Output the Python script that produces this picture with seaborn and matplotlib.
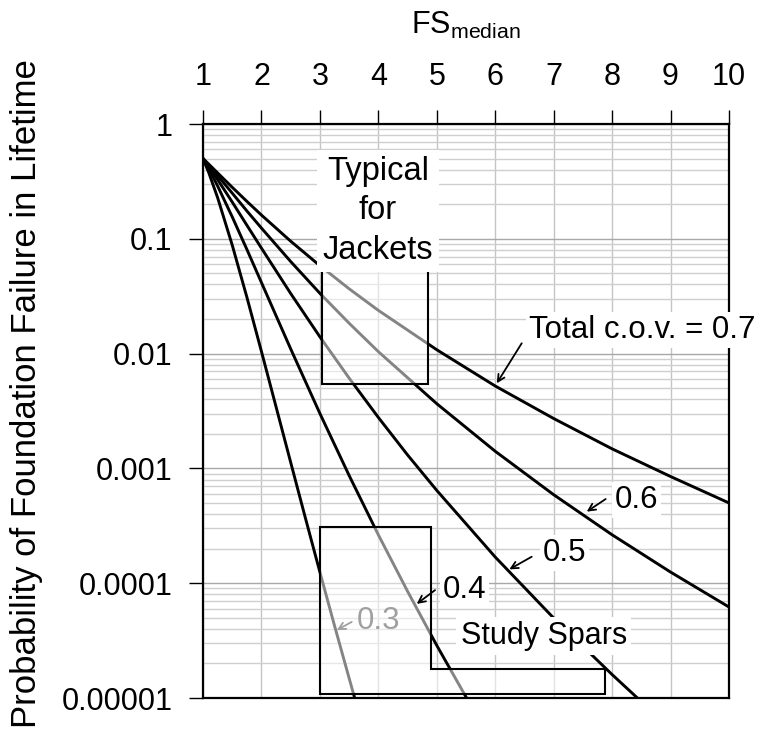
import numpy as np
import pandas as pd
import matplotlib
matplotlib.use("Agg")
import matplotlib.pyplot as plt
from matplotlib.patches import Polygon
import seaborn as sns

# ---- data ----
fs_07 = [1, 1.1, 1.25, 1.5, 1.75, 2, 2.5, 3, 3.5, 4, 5, 6, 7, 8, 9, 10]
p_07 = [0.5, 0.446, 0.375, 0.281, 0.212, 0.161, 0.0953, 0.0583, 0.0367, 0.0238,
        0.0108, 0.00522, 0.00272, 0.00148, 0.00085, 0.0005]
fs_06 = [1, 1.1, 1.25, 1.5, 1.75, 2, 2.5, 3, 3.5, 4, 5, 6, 7, 8, 9, 10]
p_06 = [0.5, 0.437, 0.355, 0.250, 0.175, 0.124, 0.0634, 0.0335, 0.0184, 0.0104,
        0.00366, 0.00141, 0.00059, 0.000264, 0.000125, 0.000062]
fs_05 = [1, 1.1, 1.25, 1.5, 1.75, 2, 2.5, 3, 3.5, 4, 4.5, 5, 6, 7, 8, 8.5]
p_05 = [0.5, 0.424, 0.328, 0.209, 0.1315, 0.0829, 0.0334, 0.0140, 0.00612, 0.00278,
        0.00131, 0.000643, 0.000169, 0.0000497, 0.0000160, 0.0000093]
fs_04 = [1, 1.1, 1.25, 1.5, 1.75, 2, 2.5, 3, 3.5, 4, 4.5, 5, 5.6]
p_04 = [0.5, 0.406, 0.2885, 0.1553, 0.0810, 0.0416, 0.0110, 0.00301, 0.000868,
        0.000264, 0.000085, 0.0000287, 0.0000083]
fs_03 = [1, 1.1, 1.25, 1.5, 1.75, 2, 2.25, 2.5, 2.75, 3, 3.25, 3.5, 3.6]
p_03 = [0.5, 0.375, 0.2284, 0.0882, 0.0311, 0.01044, 0.00344, 0.00113, 0.000373,
        0.000125, 0.0000427, 0.0000149, 0.0000098]

covs = [0.7, 0.6, 0.5, 0.4, 0.3]
x_ticks = [1, 2, 3, 4, 5, 6, 7, 8, 9, 10]
y_ticks = [1e-5, 1e-4, 1e-3, 1e-2, 1e-1, 1]
y_tick_labels = ["0.00001", "0.0001", "0.001", "0.01", "0.1", "1"]

# region boxes (data coords)
jacket_box = [(3.03, 0.0054), (3.03, 0.07), (4.855, 0.07), (4.855, 0.0054)]
spar_box = [(3.0, 1.08e-5), (3.0, 3.1e-4), (4.9, 3.1e-4), (4.9, 1.8e-5),
            (7.88, 1.8e-5), (7.88, 1.08e-5)]

frames = []
for c, fs, p in zip(covs, [fs_07, fs_06, fs_05, fs_04, fs_03],
                    [p_07, p_06, p_05, p_04, p_03]):
    frames.append(pd.DataFrame({"FS": fs, "P": p, "cov": str(c)}))
df = pd.concat(frames, ignore_index=True)

sns.set_style("white")
plt.rcParams["font.family"] = ["Liberation Sans", "DejaVu Sans"]
plt.rcParams["mathtext.fontset"] = "custom"
plt.rcParams["mathtext.rm"] = "Liberation Sans"
plt.rcParams["mathtext.it"] = "Liberation Sans"
for k in ("text.color", "axes.labelcolor", "xtick.color", "ytick.color"):
    plt.rcParams[k] = "black"

fig = plt.figure(figsize=(7.61, 7.38), dpi=100)
ax = fig.add_axes([203 / 761, 1 - 698 / 738, 526 / 761, 574 / 738])

sns.lineplot(data=df, x="FS", y="P", hue="cov", units="cov", estimator=None,
             palette={str(c): "black" for c in covs}, legend=False,
             lw=2.1, ax=ax, zorder=2, sort=True)

ax.set_yscale("log")
ax.set_xlim(1, 10)
ax.set_ylim(1e-5, 1)
ax.set_xticks(x_ticks)
ax.set_xticklabels([str(t) for t in x_ticks])
ax.set_yticks(y_ticks)
ax.set_yticklabels(y_tick_labels)
ax.xaxis.tick_top()
ax.xaxis.set_label_position("top")
ax.tick_params(axis="x", which="major", direction="out", length=10, width=1,
               pad=13, labelsize=22, top=True, bottom=False, colors="black")
ax.tick_params(axis="y", which="major", direction="out", length=10, width=1,
               pad=12, labelsize=22, left=True, right=False, colors="black")
ax.tick_params(axis="y", which="minor", length=0)
ax.set_xlabel(r"FS$_{\mathrm{median}}$", fontsize=22, labelpad=20, color="black")
ax.set_ylabel("")

ax.grid(True, which="major", axis="x", color="#c4c4c4", lw=1, zorder=0)
ax.grid(True, which="major", axis="y", color="#a8a8a8", lw=1, zorder=0)
ax.grid(True, which="minor", axis="y", color="#cfcfcf", lw=1, zorder=0)
ax.set_axisbelow(True)
for s in ax.spines.values():
    s.set_visible(True)
    s.set_color("black")
    s.set_linewidth(1.6)

# region boxes: translucent white so the curves inside look grey
for pts in (jacket_box, spar_box):
    ax.add_patch(Polygon(pts, closed=True, facecolor=(1, 1, 1, 0.52),
                         edgecolor="black", lw=1.5, zorder=3))

fs_text = 22
ax.text(3.99, 0.175, "Typical\nfor\nJackets", ha="center", va="center",
        fontsize=23.5, linespacing=1.36, zorder=6,
        bbox=dict(facecolor="white", edgecolor="none", pad=4))
ax.text(6.83, 3.47e-5, "Study Spars", ha="center", va="center",
        fontsize=fs_text, zorder=6,
        bbox=dict(facecolor="white", edgecolor="none", pad=3))

labels = [
    ("Total c.o.v. = 0.7", (6.58, 0.0161), (6.453, 0.0123), (6.026, 0.00551), "black", "left"),
    ("0.6", (8.42, 5.3e-4), (7.89, 5.41e-4), (7.566, 4.2e-4), "black", "center"),
    ("0.5", (7.19, 1.83e-4), (6.624, 1.70e-4), (6.241, 1.32e-4), "black", "center"),
    ("0.4", (5.47, 8.7e-5), (4.97, 8.7e-5), (4.657, 6.6e-5), "black", "center"),
    ("0.3", (4.0, 4.64e-5), (3.545, 4.6e-5), (3.288, 3.9e-5), "#a0a0a0", "center"),
]
for txt, pos, tail, head, col, ha in labels:
    ax.text(pos[0], pos[1], txt, ha=ha, va="center", fontsize=fs_text + 0.5,
            color=col, zorder=6, clip_on=False,
            bbox=dict(facecolor="white", edgecolor="none", pad=2) if col == "black" else None)
    ax.annotate("", xy=head, xytext=tail, zorder=6,
                arrowprops=dict(arrowstyle="->,head_length=0.5,head_width=0.25",
                                color=col, lw=1.3, shrinkA=0, shrinkB=0))

fig.text(27 / 761, 1 - 394 / 738, "Probability of Foundation Failure in Lifetime",
         rotation=90, ha="center", va="center", fontsize=25.0, color="black")

fig.savefig("out.png", dpi=100)
